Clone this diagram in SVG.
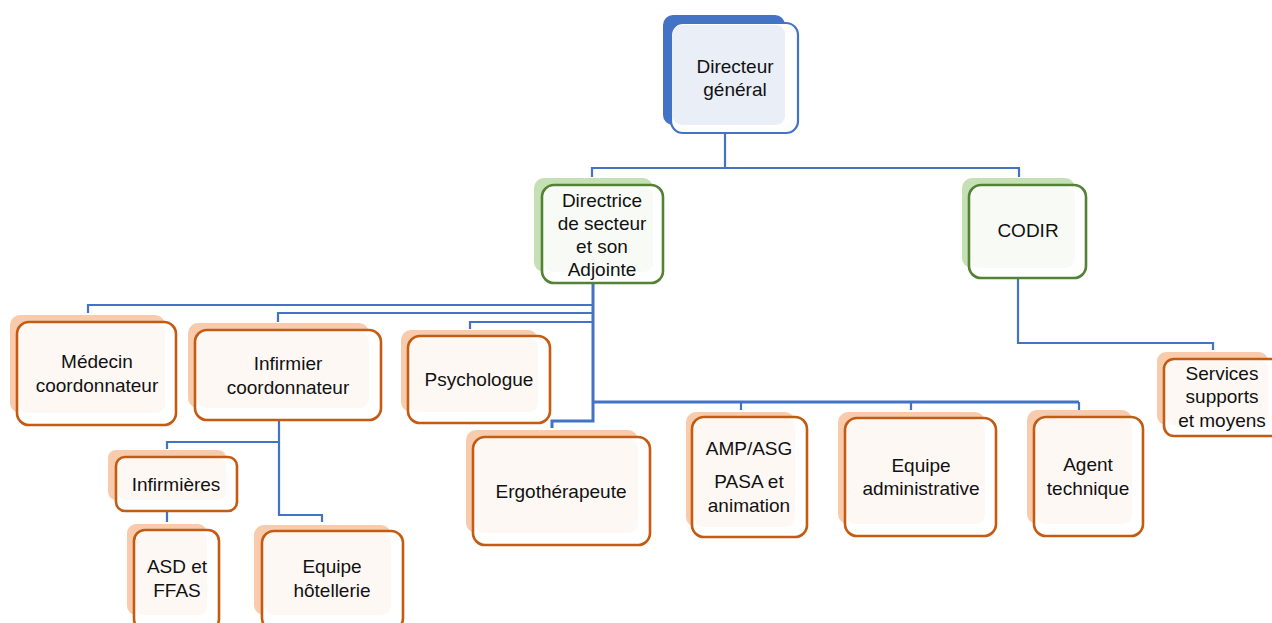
<svg xmlns="http://www.w3.org/2000/svg" width="1272" height="623" viewBox="0 0 1272 623">
<style>
.t{font-family:"Liberation Sans",Arial,sans-serif;font-size:19px;fill:#111;text-anchor:middle}
.c{fill:none;stroke:#4472C4;stroke-width:2.2}
.ct{fill:none;stroke:#4472C4;stroke-width:3}
.shb{fill:#4472C4}
.shg{fill:#C5E0B4}
.sho{fill:#F8CBAD}
.fb{fill:#FFFFFF;stroke:#4472C4;stroke-width:2.2}
.fg{fill:#FFFFFF;stroke:#548235;stroke-width:2.6}
.fo{fill:#FFFFFF;stroke:#C55A11;stroke-width:2.6}
.ib{fill:#E9EEF7}
.ig{fill:#F8FBF5}
.io{fill:#FEF8F5}
</style>
<rect width="1272" height="623" fill="#FFFFFF"/>
<g id="connectors">
<path class="c" d="M725,133 V168 M592,177 V168 H1019 V177"/>
<path class="c" d="M1018,279 V343 H1213 V350"/>
<path class="ct" d="M593,283 V421 H552 V428"/>
<path class="c" d="M593,305 H88 V313"/>
<path class="c" d="M593,313 H278 V322"/>
<path class="c" d="M593,322 H470 V329"/>
<path class="ct" d="M593,402 H1079"/>
<path class="c" d="M741,402 V410 M911,402 V410 M1079,402 V410"/>
<path class="c" d="M279,420 V515 H322 V522 M279,442 H167 V449 M167,503 V522"/>
</g>
<g id="directeur-general">
<rect class="shb" x="663" y="15" width="122" height="110" rx="10"/>
<rect class="fb" x="671" y="23" width="127" height="110" rx="12"/>
<rect class="ib" x="673" y="25" width="112" height="100" rx="9"/>
<text class="t" x="735" y="73">Directeur</text>
<text class="t" x="735" y="96">général</text>
</g>
<g id="directrice">
<rect class="shg" x="534" y="178" width="119" height="94" rx="10"/>
<rect class="fg" x="542" y="185" width="121" height="98" rx="12"/>
<rect class="ig" x="544" y="187" width="109" height="85" rx="9"/>
<text class="t" x="602" y="207">Directrice</text>
<text class="t" x="602" y="230">de secteur</text>
<text class="t" x="602" y="253">et son</text>
<text class="t" x="602" y="276">Adjointe</text>
</g>
<g id="codir">
<rect class="shg" x="962" y="178" width="113" height="90" rx="10"/>
<rect class="fg" x="969" y="185" width="117" height="93" rx="12"/>
<rect class="ig" x="971" y="187" width="104" height="81" rx="9"/>
<text class="t" x="1028" y="237">CODIR</text>
</g>
<g id="services">
<rect class="sho" x="1157" y="352" width="111" height="73" rx="9"/>
<rect class="fo" x="1164" y="359" width="120" height="77" rx="10"/>
<rect class="io" x="1166" y="361" width="102" height="64" rx="8"/>
<text class="t" x="1222" y="380">Services</text>
<text class="t" x="1222" y="403">supports</text>
<text class="t" x="1222" y="427">et moyens</text>
</g>
<g id="medecin">
<rect class="sho" x="10" y="315" width="155" height="98" rx="10"/>
<rect class="fo" x="17" y="322" width="159" height="103" rx="12"/>
<rect class="io" x="19" y="324" width="146" height="89" rx="9"/>
<text class="t" x="97" y="368">Médecin</text>
<text class="t" x="97" y="392">coordonnateur</text>
</g>
<g id="infirmier-coordonnateur">
<rect class="sho" x="188" y="323" width="181" height="85" rx="10"/>
<rect class="fo" x="195" y="330" width="186" height="90" rx="12"/>
<rect class="io" x="197" y="332" width="172" height="76" rx="9"/>
<text class="t" x="288" y="370">Infirmier</text>
<text class="t" x="288" y="394">coordonnateur</text>
</g>
<g id="psychologue">
<rect class="sho" x="401" y="330" width="137" height="82" rx="10"/>
<rect class="fo" x="408" y="336" width="142" height="87" rx="12"/>
<rect class="io" x="410" y="338" width="128" height="74" rx="9"/>
<text class="t" x="479" y="386">Psychologue</text>
</g>
<g id="infirmieres">
<rect class="sho" x="108" y="450" width="118" height="50" rx="8"/>
<rect class="fo" x="116" y="457" width="121" height="54" rx="9"/>
<rect class="io" x="118" y="459" width="108" height="41" rx="7"/>
<text class="t" x="176" y="491">Infirmières</text>
</g>
<g id="asd-ffas">
<rect class="sho" x="127" y="524" width="80" height="91" rx="9"/>
<rect class="fo" x="134" y="530" width="85" height="100" rx="11"/>
<rect class="io" x="136" y="532" width="71" height="83" rx="8"/>
<text class="t" x="177" y="573">ASD et</text>
<text class="t" x="177" y="597">FFAS</text>
</g>
<g id="equipe-hotellerie">
<rect class="sho" x="254" y="525" width="137" height="90" rx="10"/>
<rect class="fo" x="262" y="531" width="141" height="99" rx="12"/>
<rect class="io" x="264" y="533" width="127" height="82" rx="9"/>
<text class="t" x="332" y="573">Equipe</text>
<text class="t" x="332" y="597">hôtellerie</text>
</g>
<g id="ergotherapeute">
<rect class="sho" x="466" y="430" width="172" height="103" rx="10"/>
<rect class="fo" x="473" y="437" width="177" height="108" rx="12"/>
<rect class="io" x="475" y="439" width="163" height="94" rx="9"/>
<text class="t" x="561" y="498">Ergothérapeute</text>
</g>
<g id="amp-asg">
<rect class="sho" x="686" y="412" width="109" height="115" rx="10"/>
<rect class="fo" x="692" y="417" width="115" height="120" rx="12"/>
<rect class="io" x="694" y="419" width="101" height="108" rx="9"/>
<text class="t" x="749" y="455">AMP/ASG</text>
<text class="t" x="749" y="488">PASA et</text>
<text class="t" x="749" y="512">animation</text>
</g>
<g id="equipe-administrative">
<rect class="sho" x="838" y="412" width="147" height="112" rx="10"/>
<rect class="fo" x="845" y="418" width="151" height="118" rx="12"/>
<rect class="io" x="847" y="420" width="138" height="104" rx="9"/>
<text class="t" x="921" y="472">Equipe</text>
<text class="t" x="921" y="495">administrative</text>
</g>
<g id="agent-technique">
<rect class="sho" x="1027" y="410" width="105" height="114" rx="10"/>
<rect class="fo" x="1034" y="417" width="109" height="119" rx="12"/>
<rect class="io" x="1036" y="419" width="96" height="105" rx="9"/>
<text class="t" x="1088" y="471">Agent</text>
<text class="t" x="1088" y="495">technique</text>
</g>
</svg>
